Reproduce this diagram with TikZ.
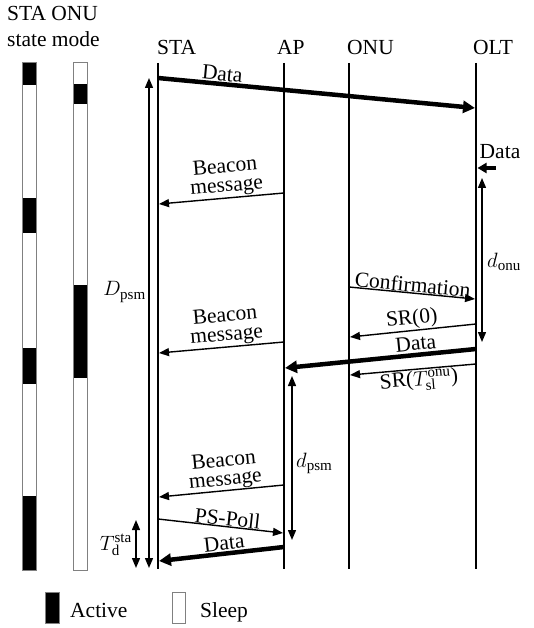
\documentclass[tikz,border=0pt]{standalone}
\usepackage{fontspec}
\setmainfont{Liberation Serif}
\usetikzlibrary{arrows.meta}
\begin{document}
\begin{tikzpicture}[x=1pt,y=-1pt,
  every node/.style={font=\fontsize{21.5}{19}\selectfont, inner sep=1pt},
  life/.style={line width=1.4pt},
  msg/.style={line width=1.4pt, -{Triangle[length=10pt,width=8pt]}},
  bigmsg/.style={line width=4.5pt, -{Triangle[length=12pt,width=12pt]}},
  smallmsg/.style={line width=3.5pt, -{Triangle[length=9pt,width=10pt]}},
  dimarrow/.style={line width=1.4pt, {Triangle[length=10pt,width=8pt]}-{Triangle[length=10pt,width=8pt]}},
  barframe/.style={draw=gray, line width=0.9pt},
  lbl/.style={sloped, above, align=center}
]
\useasboundingbox (0,0) rectangle (533,628);

% header
\node[anchor=base west, inner sep=0] (hdr1) at (7,21) {STA ONU};
\node[anchor=base west, inner sep=0] (hdr2) at (7,47) {state mode};

% state bars
\fill[white] (22,62) rectangle (36,570);
\fill[black] (22,62) rectangle (36,85);
\fill[black] (22,198) rectangle (36,233);
\fill[black] (22,348) rectangle (36,384);
\fill[black] (22,496) rectangle (36,570);
\draw[barframe] (22,62) rectangle (36,570);

\fill[white] (73,62) rectangle (87,570);
\fill[black] (73,84) rectangle (87,104);
\fill[black] (73,285) rectangle (87,378);
\draw[barframe] (73,62) rectangle (87,570);

% lifeline heads
\node[anchor=base west, inner sep=0] (STA) at (157,55) {STA};
\node[anchor=base west, inner sep=0] (AP) at (277,55) {AP};
\node[anchor=base west, inner sep=0] (ONU) at (347,55) {ONU};
\node[anchor=base west, inner sep=0] (OLT) at (473,55) {OLT};

\coordinate (staT) at (158,63); \coordinate (staB) at (158,569);
\coordinate (apT) at (284,63);  \coordinate (apB) at (284,569);
\coordinate (onuT) at (349,63); \coordinate (onuB) at (349,569);
\coordinate (oltT) at (476,63); \coordinate (oltB) at (476,569);
\draw[life] (staT) -- (staB);
\draw[life] (apT) -- (apB);
\draw[life] (onuT) -- (onuB);
\draw[life] (oltT) -- (oltB);

% messages
\coordinate (m1a) at (158,78);  \coordinate (m1b) at (475,108);
\draw[bigmsg] (m1a) -- node[lbl, pos=0.2, inner sep=1pt] (m1l) {Data} (m1b);

\coordinate (m0a) at (496,168); \coordinate (m0b) at (477.5,168);
\draw[smallmsg] (m0a) -- (m0b);
\node (m0l) at (500,152) {Data};

\coordinate (b1a) at (284,193); \coordinate (b1b) at (159,204);
\draw[msg] (b1a) -- node[lbl, pos=0.45, inner sep=1pt] (b1l) {Beacon\\message} (b1b);

\coordinate (c1a) at (349,287); \coordinate (c1b) at (475,299);
\draw[msg] (c1a) -- node[lbl, pos=0.5, inner sep=0pt] (c1l) {Confirmation} (c1b);

\coordinate (s0a) at (476,324); \coordinate (s0b) at (350,337);
\draw[msg] (s0a) -- node[lbl, pos=0.5, inner sep=1pt] (s0l) {SR(0)} (s0b);

\coordinate (d2a) at (476,349); \coordinate (d2b) at (285,368);
\draw[bigmsg] (d2a) -- node[lbl, pos=0.31, inner sep=2pt] (d2l) {Data} (d2b);

\coordinate (s1a) at (476,364); \coordinate (s1b) at (350,375);
\draw[msg] (s1a) -- node[sloped, below, pos=0.46, inner sep=1pt] (s1l) {SR($T^{\mathrm{onu}}_{\mathrm{sl}}$)} (s1b);

\coordinate (b2a) at (284,342); \coordinate (b2b) at (159,353);
\draw[msg] (b2a) -- node[lbl, pos=0.45, inner sep=1pt] (b2l) {Beacon\\message} (b2b);

\coordinate (b3a) at (284,485); \coordinate (b3b) at (159,497);
\draw[msg] (b3a) -- node[lbl, pos=0.46, inner sep=0pt] (b3l) {Beacon\\message} (b3b);

\coordinate (p1a) at (158,519); \coordinate (p1b) at (283,533);
\draw[msg] (p1a) -- node[lbl, pos=0.55, inner sep=0pt] (p1l) {PS-Poll} (p1b);

\coordinate (d3a) at (284,547); \coordinate (d3b) at (159,561);
\draw[bigmsg] (d3a) -- node[lbl, pos=0.47, inner sep=1pt] (d3l) {Data} (d3b);

% interval arrows
\coordinate (Dpa) at (149,78);  \coordinate (Dpb) at (149,568);
\draw[dimarrow] (Dpa) -- (Dpb);
\node[anchor=east, inner sep=0] (Dpl) at (146,292) {$D_{\mathrm{psm}}$};

\coordinate (doa) at (482,178); \coordinate (dob) at (482,342);
\draw[dimarrow] (doa) -- (dob);
\node[anchor=west, inner sep=0] (dol) at (487,262) {$d_{\mathrm{onu}}$};

\coordinate (dpa) at (292,376); \coordinate (dpb) at (292,540);
\draw[dimarrow] (dpa) -- (dpb);
\node[anchor=west, inner sep=0] (dpl) at (296,463) {$d_{\mathrm{psm}}$};

\coordinate (tda) at (136,520); \coordinate (tdb) at (136,568);
\draw[dimarrow] (tda) -- (tdb);
\node[anchor=east, inner sep=0] (tdl) at (132,545) {$T^{\mathrm{sta}}_{\mathrm{d}}$};

% legend
\node[draw=gray, fill=black, line width=0.9pt, minimum width=14pt, minimum height=31pt, inner sep=0] (legA) at (52,607.5) {};
\node[anchor=base west, inner sep=0] (legAt) at (70,617) {Active};
\node[draw=gray, fill=white, line width=0.9pt, minimum width=13pt, minimum height=31pt, inner sep=0] (legS) at (178.5,607.5) {};
\node[anchor=base west, inner sep=0] (legSt) at (200,617) {Sleep};
\end{tikzpicture}
\end{document}
